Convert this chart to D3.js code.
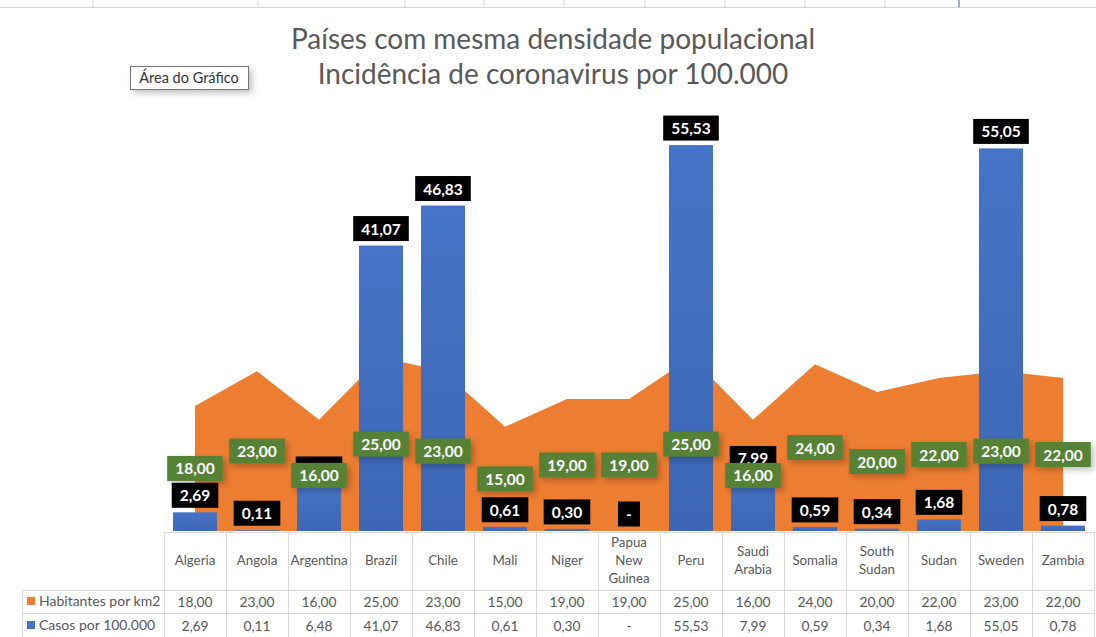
<!DOCTYPE html>
<html><head><meta charset="utf-8">
<script src="https://cdn.jsdelivr.net/npm/d3@7"></script>
<style>
html,body{margin:0;padding:0;background:#fff;}
svg{display:block;font-family:Lato,"Open Sans",sans-serif;}
</style></head>
<body>
<svg id="c" width="1096" height="637"></svg>
<script>
const categories = ["Algeria","Angola","Argentina","Brazil","Chile","Mali","Niger","Papua New Guinea","Peru","Saudi Arabia","Somalia","South Sudan","Sudan","Sweden","Zambia"];
const categoryLines = [["Algeria"],["Angola"],["Argentina"],["Brazil"],["Chile"],["Mali"],["Niger"],["Papua","New","Guinea"],["Peru"],["Saudi","Arabia"],["Somalia"],["South","Sudan"],["Sudan"],["Sweden"],["Zambia"]];
const habitantes = [18,23,16,25,23,15,19,19,25,16,24,20,22,23,22];
const casos = [2.69,0.11,6.48,41.07,46.83,0.61,0.30,0,55.53,7.99,0.59,0.34,1.68,55.05,0.78];
const seriesNames = ["Habitantes por km2","Casos por 100.000"];
const titleLines = ["Países com mesma densidade populacional","Incidência de coronavirus por 100.000"];
const yDomain = [0,60];

const svg = d3.select("#c");
const locale = d3.formatLocale({decimal:",",thousands:".",grouping:[3],currency:["",""]});
const f2 = locale.format(".2f");
const fmt = v => v === 0 ? "-" : f2(v);

const ORANGE="#ED7D31", BLUE="#4472C4", GREEN="#548235", GRID="#d9d9d9", TXT="#595959";

// spreadsheet grid strip at top
const topCols = [93,258,405,484,564,645,725,805,885];
svg.append("line").attr("x1",0).attr("x2",1096).attr("y1",7.5).attr("y2",7.5).attr("stroke","#d4d4d4");
svg.selectAll(".tc").data(topCols).join("line").attr("x1",d=>d).attr("x2",d=>d).attr("y1",0).attr("y2",7).attr("stroke","#d4d4d4");
svg.append("line").attr("x1",959).attr("x2",959).attr("y1",0).attr("y2",7).attr("stroke","#2f5ea8");

const x = d3.scaleBand().domain(categories).range([164,1094]).paddingInner(0.29).paddingOuter(0.145);
const y = d3.scaleLinear().domain(yDomain).range([531,531-60*6.95]);
const cx = c => x(c)+x.bandwidth()/2;

const defs = svg.append("defs");
const g = defs.append("linearGradient").attr("id","bg").attr("x1",0).attr("x2",0).attr("y1",0).attr("y2",1);
g.append("stop").attr("offset","0%").attr("stop-color","#4674c6");
g.append("stop").attr("offset","100%").attr("stop-color","#3d67b4");
const sh = defs.append("filter").attr("id","sh").attr("x","-30%").attr("y","-50%").attr("width","180%").attr("height","220%");
sh.append("feDropShadow").attr("dx",3).attr("dy",3).attr("stdDeviation",3).attr("flood-color","#000").attr("flood-opacity",0.25);

// title
svg.append("g").selectAll("text").data(titleLines).join("text")
  .attr("x",553).attr("y",(d,i)=>49+i*35).attr("text-anchor","middle")
  .attr("font-size",28).attr("fill",TXT).text(d=>d);

// area
const area = d3.area().x((d,i)=>cx(categories[i])).y0(y(0)).y1(d=>y(d));
svg.append("path").datum(habitantes).attr("d",area).attr("fill",ORANGE);

// bars
svg.append("g").selectAll("rect").data(casos).join("rect")
  .attr("x",(d,i)=>x(categories[i])).attr("width",x.bandwidth())
  .attr("y",d=>y(d)).attr("height",d=>y(0)-y(d)).attr("fill","url(#bg)");

function labels(data, yc, bg, cls, shadow){
  const gg = svg.append("g").attr("class",cls);
  const items = gg.selectAll("g").data(data).join("g")
    .attr("transform",(d,i)=>`translate(${cx(categories[i])},${yc(d)})`);
  const r = items.append("rect").attr("fill",bg).attr("height",25).attr("y",-12.5);
  if(shadow) r.attr("filter","url(#sh)");
  const t = items.append("text").attr("text-anchor","middle").attr("y",6)
    .attr("font-size",15.5).attr("font-weight","bold").attr("fill","#fff").text(d=>fmt(d));
  t.each(function(d){
    const w = this.getComputedTextLength();
    const bw = d===0 ? 22 : w+16;
    d3.select(this.parentNode).select("rect").attr("x",-bw/2).attr("width",bw);
  });
}
labels(casos, d=>y(d)-17, "#000", "bl", false);
labels(habitantes, d=>(y(d)+y(0))/2, GREEN, "gl", true);

// data table
const tg = svg.append("g");
const colX = d3.range(categories.length+1).map(i=>164+i*62);
tg.append("line").attr("x1",164).attr("x2",1094).attr("y1",532.5).attr("y2",532.5).attr("stroke",GRID);
[590.5,613.5].forEach(yy=>tg.append("line").attr("x1",22).attr("x2",1094).attr("y1",yy).attr("y2",yy).attr("stroke",GRID));
tg.selectAll(".vl").data(colX).join("line").attr("x1",d=>d+0.5).attr("x2",d=>d+0.5).attr("y1",532).attr("y2",637).attr("stroke",GRID);
tg.append("line").attr("x1",22.5).attr("x2",22.5).attr("y1",590).attr("y2",637).attr("stroke",GRID);

// category labels
tg.selectAll(".cat").data(categoryLines).join("text")
  .attr("text-anchor","middle").attr("font-size",13.3).attr("fill",TXT)
  .attr("transform",(d,i)=>`translate(${cx(categories[i])},${565 - (d.length-1)*9})`)
  .selectAll("tspan").data(d=>d).join("tspan").attr("x",0).attr("dy",(d,i)=>i?18:0).text(d=>d);

// row values
[habitantes,casos].forEach((arr,r)=>{
  tg.selectAll(".rv"+r).data(arr).join("text").attr("x",(d,i)=>cx(categories[i])).attr("y",607+r*24)
    .attr("text-anchor","middle").attr("font-size",13.8).attr("fill",TXT).text(d=>fmt(d));
});
// legend keys
[ORANGE,BLUE].forEach((c,r)=>{
  tg.append("rect").attr("x",27).attr("y",597+r*24).attr("width",8).attr("height",8).attr("fill",c);
  tg.append("text").attr("x",39).attr("y",606+r*24).attr("font-size",14).attr("fill",TXT).text(seriesNames[r]);
});

// tooltip "Área do Gráfico"
const tip = svg.append("g");
tip.append("rect").attr("x",130.5).attr("y",66.5).attr("width",118).attr("height",23).attr("fill","#fff").attr("stroke","#767676").attr("filter","url(#sh)");
tip.append("text").attr("x",189).attr("y",83).attr("text-anchor","middle").attr("font-size",14.5).attr("fill","#333").text("Área do Gráfico");
</script>
</body></html>
